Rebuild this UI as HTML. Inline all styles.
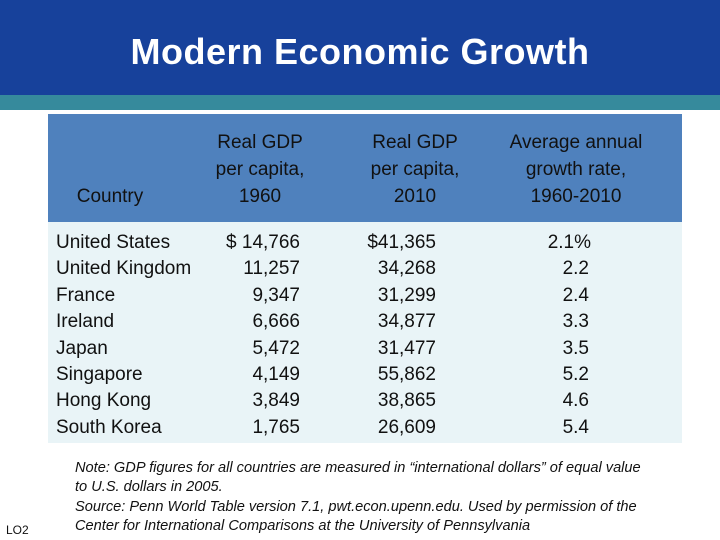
<!DOCTYPE html>
<html><head><meta charset="utf-8"><style>
body{margin:0;width:720px;height:540px;background:#fff;position:relative;overflow:hidden;font-family:"Liberation Sans",sans-serif}
.a{position:absolute;white-space:nowrap}
#hdr{left:0;top:0;width:720px;height:95px;background:#17419b}
#stripe{left:0;top:95px;width:720px;height:15px;background:#368a9c}
#title{left:0;width:720px;top:31px;text-align:center;color:#fff;font-weight:bold;font-size:36px;letter-spacing:0.5px}
#th{left:48px;top:114px;width:634px;height:108px;background:#4f81bd}
#tb{left:48px;top:222px;width:634px;height:221px;background:#e9f4f7}
.h{font-size:19px;color:#111;text-align:center;line-height:27px}
.c{font-size:19px;color:#111;line-height:26.4px}
.note{left:75px;top:459px;font-size:14.6px;font-style:italic;color:#111;line-height:19.3px}
</style></head><body>
<div class="a" id="hdr"></div>
<div class="a" id="stripe"></div>
<div class="a" id="title">Modern Economic Growth</div>
<div class="a" id="th"></div>
<div class="a" id="tb"></div>
<div class="a h" style="left:60px;top:183px;width:100px">Country</div>
<div class="a h" style="left:190px;top:129px;width:140px">Real GDP<br>per capita,<br>1960</div>
<div class="a h" style="left:345px;top:129px;width:140px">Real GDP<br>per capita,<br>2010</div>
<div class="a h" style="left:496px;top:129px;width:160px">Average annual<br>growth rate,<br>1960-2010</div>
<div class="a c" style="left:56px;top:230px">United States<br>United Kingdom<br>France<br>Ireland<br>Japan<br>Singapore<br>Hong Kong<br>South Korea</div>
<div class="a c" style="left:200px;top:230px;width:100px;text-align:right">$ 14,766<br>11,257<br>9,347<br>6,666<br>5,472<br>4,149<br>3,849<br>1,765</div>
<div class="a c" style="left:336px;top:230px;width:100px;text-align:right">$41,365<br>34,268<br>31,299<br>34,877<br>31,477<br>55,862<br>38,865<br>26,609</div>
<div class="a c" style="left:500px;top:230px;width:89px;text-align:right"><span style="margin-right:-2px">2.1%</span><br>2.2<br>2.4<br>3.3<br>3.5<br>5.2<br>4.6<br>5.4</div>
<div class="a note">Note: GDP figures for all countries are measured in “international dollars” of equal value<br>to U.S. dollars in 2005.<br>Source: Penn World Table version 7.1, pwt.econ.upenn.edu. Used by permission of the<br>Center for International Comparisons at the University of Pennsylvania</div>
<div class="a" style="left:6px;top:523px;font-size:12px;color:#111">LO2</div>
</body></html>
